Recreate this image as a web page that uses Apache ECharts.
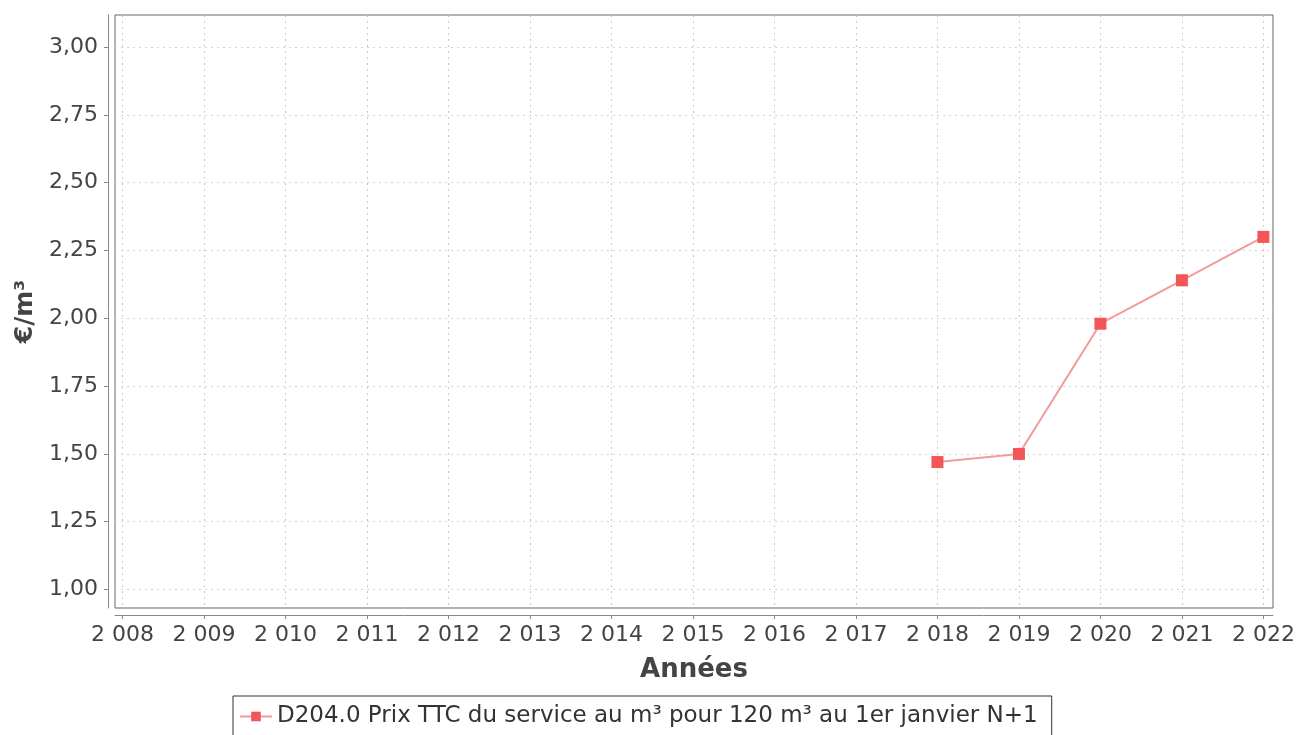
<!DOCTYPE html>
<html>
<head>
<meta charset="utf-8">
<script src="https://cdn.jsdelivr.net/npm/echarts@6/dist/echarts.min.js"></script>
<style>
html,body{margin:0;padding:0;background:#fff;}
#chart{width:1299px;height:735px;}
</style>
</head>
<body>
<div id="chart"></div>
<script>
const years = [2018, 2019, 2020, 2021, 2022];
const prices = [1.47, 1.50, 1.98, 2.14, 2.30];
const xTicks = [2008, 2009, 2010, 2011, 2012, 2013, 2014, 2015, 2016, 2017, 2018, 2019, 2020, 2021, 2022];
const yTicks = [1.00, 1.25, 1.50, 1.75, 2.00, 2.25, 2.50, 2.75, 3.00];
const seriesName = 'D204.0 Prix TTC du service au m³ pour 120 m³ au 1er janvier N+1';
const xTitle = 'Années';
const yTitle = '€/m³';

const font = 'DejaVu Sans';
const chart = echarts.init(document.getElementById('chart'), null, {renderer: 'canvas'});
chart.setOption({
  animation: false,
  backgroundColor: '#ffffff',
  grid: {
    left: 115, top: 15, right: 26, bottom: 127,
    show: true, borderColor: '#666', borderWidth: 1, backgroundColor: '#ffffff'
  },
  xAxis: {
    type: 'value',
    min: 2007.907, max: 2022.118,
    offset: 7,
    name: xTitle,
    nameLocation: 'middle',
    nameGap: 42,
    nameTextStyle: {fontFamily: font, fontSize: 26, fontWeight: 'bold', color: '#444'},
    axisLine: {show: true, lineStyle: {color: '#888', width: 1}},
    axisTick: {show: true, length: 4, customValues: xTicks, lineStyle: {color: '#888'}},
    axisLabel: {
      customValues: xTicks, fontFamily: font, fontSize: 22, color: '#444', margin: 9,
      formatter: v => String(Math.round(v)).replace(/^(\d)(\d{3})$/, '$1\u00a0$2')
    },
    splitLine: {show: true, lineStyle: {color: '#dcc4cc', type: [2, 4], width: 1}}
  },
  yAxis: {
    type: 'value',
    min: 0.932, max: 3.118,
    offset: 7,
    name: yTitle,
    nameLocation: 'middle',
    nameGap: 62,
    nameRotate: 90,
    nameTextStyle: {fontFamily: font, fontSize: 25, fontWeight: 'bold', color: '#444'},
    axisLine: {show: true, lineStyle: {color: '#888', width: 1}},
    axisTick: {show: true, length: 4, customValues: yTicks, lineStyle: {color: '#888'}},
    axisLabel: {
      customValues: yTicks, fontFamily: font, fontSize: 22, color: '#444', margin: 10,
      formatter: v => v.toFixed(2).replace('.', ',')
    },
    splitLine: {show: true, lineStyle: {color: '#d8d0d2', type: [2, 4], width: 1}}
  },
  legend: {
    left: 233, top: 696,
    padding: [9, 14, 9, 6],
    borderColor: '#333', borderWidth: 1, borderRadius: 0,
    itemWidth: 32, itemHeight: 12, itemGap: 6,
    textStyle: {fontFamily: font, fontSize: 23, color: '#333'},
    data: [seriesName]
  },
  series: [{
    name: seriesName,
    type: 'line',
    data: years.map((y, i) => [y, prices[i]]),
    symbol: 'rect',
    symbolSize: 12,
    lineStyle: {color: '#f39a9a', width: 2},
    itemStyle: {color: '#f25656'},
    clip: false
  }]
});
</script>
</body>
</html>
